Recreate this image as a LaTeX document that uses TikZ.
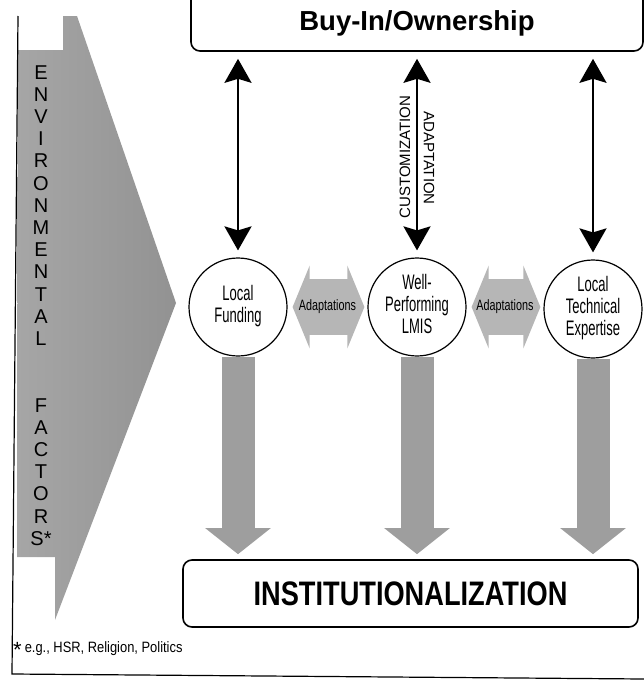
\documentclass[tikz,border=0pt]{standalone}
\usepackage{fontspec}
\setmainfont{Liberation Sans}
\usetikzlibrary{arrows.meta,calc}
\definecolor{shadelight}{HTML}{A6A6A6}
\definecolor{shadedark}{HTML}{929292}
\definecolor{fatgray}{HTML}{9E9E9E}
\definecolor{sidegray}{HTML}{B6B6B6}
\newcommand{\squeeze}[2]{% narrow lettering
\scalebox{#1}[1]{#2}}
\tikzstyle{stagebox} = [
    draw,
    line width=1.6pt,
    rounded corners=9pt,
    inner sep=0pt
    ]
\tikzstyle{factor} = [
    draw,
    circle,
    fill=white,
    line width=1.2pt,
    minimum size=98pt,
    inner sep=0pt,
    font=\fontsize{21}{22}\selectfont
    ]
\tikzstyle{envletter} = [
    inner sep=0pt,
    text height=14.3pt,
    text depth=0pt,
    font=\fontsize{20}{20}\selectfont
    ]
\tikzstyle{updown} = [
    line width=2.4pt,
    {Stealth[length=24pt,width=27pt,inset=4pt]}-{Stealth[length=24pt,width=27pt,inset=4pt]},
    shorten <=7pt,
    shorten >=7pt
    ]
\tikzstyle{fatdown} = [
    fatgray,
    line width=33pt,
    -{Triangle[length=26pt,width=64pt]},
    shorten >=5pt
    ]
\tikzstyle{fatside} = [
    sidegray,
    line width=56pt,
    {Triangle[length=17pt,width=82pt]}-{Triangle[length=17pt,width=82pt]},
    shorten <=5pt,
    shorten >=3pt
    ]
\tikzstyle{sidetext} = [
    text=black,
    font=\fontsize{15}{15}\selectfont
    ]

\begin{document}
\begin{tikzpicture}[x=1pt,y=-1pt]
\useasboundingbox (0,0) rectangle (644,680);

% environmental factors wedge
\shade[left color=shadelight, right color=shadedark]
    (18,50) -- (63,50) -- (63,16) -- (77,16) -- (176,303) -- (55,620)
    -- (55,557) -- (17,557) -- cycle;
\draw[line width=1.2pt] (18,16) -- (12,674) -- (644,679);
\foreach \ch [count=\i from 0] in {E,N,V,I,R,O,N,M,E,N,T,A,L}
    \node[envletter] (env\i) at (41,{72+22.2*\i}) {\ch};
\foreach \ch [count=\i from 15] in {F,A,C,T,O,R,S*}
    \node[envletter] (fac\i) at (41,{72+22.2*\i}) {\ch};

\node[stagebox, minimum width=452pt, minimum height=66pt, text height=25pt, text depth=0pt,
    font=\bfseries\fontsize{27.5}{30}\selectfont] (buy) at (417,18) {Buy-In/Ownership};
\node[stagebox, minimum width=455pt, minimum height=67pt,
    font=\bfseries\fontsize{34}{36}\selectfont] (inst) at (410.5,593.5)
    {\squeeze{0.8}{INSTITUTIONALIZATION}};

\node[factor] (lf) at (238,307) {\squeeze{0.62}{\begin{tabular}{c}Local\\Funding\end{tabular}}};
\node[factor] (lmis) at (417,307) {\squeeze{0.62}{\begin{tabular}{c}Well-\\Performing\\LMIS\end{tabular}}};
\node[factor] (lte) at (593,309) {\squeeze{0.62}{\begin{tabular}{c}Local\\Technical\\Expertise\end{tabular}}};

\draw[fatside] (lf.east) -- node[sidetext] (ad1)
    {\squeeze{0.72}{Adaptations}} (lmis.west);
\draw[fatside] (lmis.east) -- node[sidetext] (ad2)
    {\squeeze{0.72}{Adaptations}} (lmis.east -| lte.west);

\foreach \f in {lf,lmis,lte}{
    \draw[updown] (\f.north) -- (\f.north |- buy.south);
    \draw[fatdown] (\f.south) -- (\f.south |- inst.north);
}
\node[rotate=90, font=\fontsize{15}{15}\selectfont] (cust) at (405,157) {CUSTOMIZATION};
\node[rotate=-90, font=\fontsize{15}{15}\selectfont] (adapt) at (429,158) {ADAPTATION};

\node[anchor=base west, inner sep=0pt, font=\fontsize{15}{15}\selectfont] (note) at (13,652)
    {{\fontsize{22}{22}\selectfont\raisebox{-5pt}{*}}\hspace{3pt}\squeeze{0.86}{e.g., HSR, Religion, Politics}};
\end{tikzpicture}
\end{document}
